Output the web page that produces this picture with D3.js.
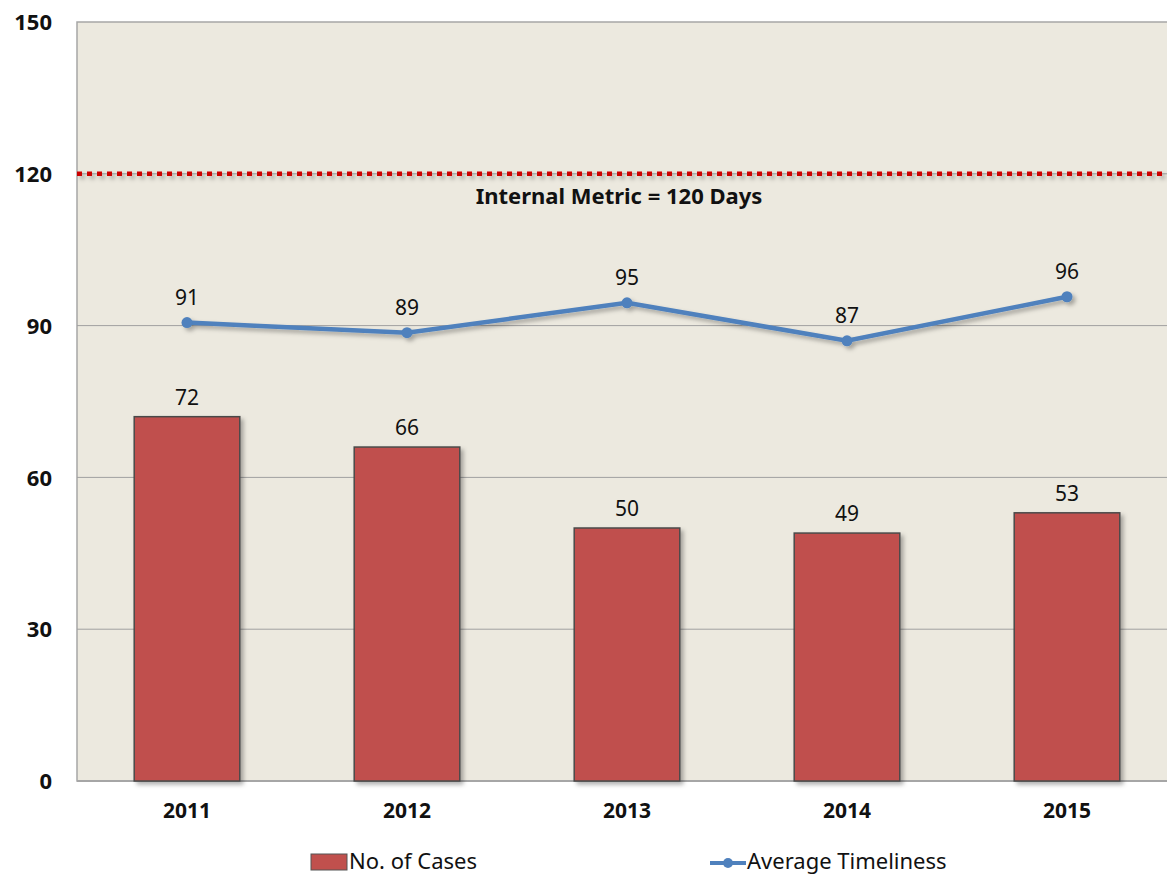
<!DOCTYPE html>
<meta charset="utf-8">
<head>
<style>
body { margin: 0; background: #fff; }
text { font-family: 'Noto Sans', 'Open Sans', sans-serif; fill: #111; }
.tick text { font-size: 21px; font-weight: bold; }
.ytick text { font-size: 22px; }
.lbl { font-size: 21px; }
.legend text { font-size: 22px; }
</style>
<script src="https://cdn.jsdelivr.net/npm/d3@7"></script>
</head>
<body>
<svg id="chart"></svg>
<script>
// data
var years = ["2011", "2012", "2013", "2014", "2015"]
var cases = [72, 66, 50, 49, 53]
var timeliness = [90.6, 88.6, 94.5, 87.0, 95.7]
var yTicks = [0, 30, 60, 90, 120, 150]
var metric = 120

var width = 1167, height = 875
var margin = {top: 22, right: -10, bottom: 94, left: 77}
var w = width - margin.left - margin.right
var h = height - margin.top - margin.bottom

var svg = d3.select('#chart').attr('width', width).attr('height', height)

var defs = svg.append('defs')
var f = defs.append('filter').attr('id', 'shadow').attr('filterUnits', 'userSpaceOnUse')
  .attr('x', 0).attr('y', 0).attr('width', width).attr('height', height)
f.append('feDropShadow').attr('dx', 3).attr('dy', 3).attr('stdDeviation', 2).attr('flood-color', '#000').attr('flood-opacity', 0.3)

var g = svg.append('g').attr('transform', 'translate(' + margin.left + ',' + margin.top + ')')

var x = d3.scaleBand().domain(years).range([0, w]).paddingInner(0.52).paddingOuter(0.26)
var y = d3.scaleLinear().domain([0, 150]).range([h, 0])

// plot background
g.append('rect').attr('width', w).attr('height', h).attr('fill', '#ECE9DF')
  .attr('stroke', '#a6a6a6').attr('stroke-width', 1.5)

// gridlines
g.selectAll('.grid').data(yTicks.filter(d => d > 0 && d < 150)).enter().append('line')
  .attr('x1', 0).attr('x2', w)
  .attr('y1', d => y(d)).attr('y2', d => y(d))
  .attr('stroke', '#a0a0a0').attr('stroke-width', 1)

// y axis
var yAxis = g.append('g').attr('class', 'ytick').call(d3.axisLeft(y).tickValues(yTicks).tickSize(0).tickPadding(25))
yAxis.select('.domain').remove()
yAxis.selectAll('text').attr('dy', '0.35em')

// x axis
var xAxis = g.append('g').attr('transform', 'translate(0,' + h + ')')
  .call(d3.axisBottom(x).tickSize(0).tickPadding(22))
xAxis.select('.domain').remove()
g.append('line').attr('x1', 0).attr('x2', w).attr('y1', h).attr('y2', h).attr('stroke', '#a6a6a6').attr('stroke-width', 2)

// bars
g.selectAll('.bar').data(cases).enter().append('rect')
  .attr('x', (d, i) => x(years[i]))
  .attr('y', d => y(d))
  .attr('width', x.bandwidth())
  .attr('height', d => h - y(d))
  .attr('fill', '#C0504D')
  .attr('stroke', '#4a4a4a').attr('stroke-width', 1.5)
  .attr('filter', 'url(#shadow)')

g.selectAll('.barlbl').data(cases).enter().append('text').attr('class', 'lbl')
  .attr('x', (d, i) => x(years[i]) + x.bandwidth() / 2)
  .attr('y', d => y(d) - 12)
  .attr('text-anchor', 'middle')
  .text(d => d)

// metric line
g.append('line').attr('x1', 0).attr('x2', w)
  .attr('y1', y(metric)).attr('y2', y(metric))
  .attr('stroke', '#CC0000').attr('stroke-width', 4.5)
  .attr('stroke-dasharray', '5,5')
  .attr('filter', 'url(#shadow)')
g.append('text').attr('x', 542).attr('y', y(metric) + 30)
  .attr('text-anchor', 'middle').style('font-size', '22px').style('font-weight', 'bold')
  .text('Internal Metric = 120 Days')

// timeliness line
var cx = (d, i) => x(years[i]) + x.bandwidth() / 2
var line = d3.line().x(cx).y(d => y(d))
var lg = g.append('g').attr('filter', 'url(#shadow)')
lg.append('path').datum(timeliness).attr('d', line)
  .attr('fill', 'none').attr('stroke', '#4F81BD').attr('stroke-width', 4.5)
lg.selectAll('circle').data(timeliness).enter().append('circle')
  .attr('cx', cx).attr('cy', d => y(d)).attr('r', 5.5).attr('fill', '#4F81BD')

g.selectAll('.linelbl').data(timeliness).enter().append('text').attr('class', 'lbl')
  .attr('x', cx).attr('y', d => y(d) - 18)
  .attr('text-anchor', 'middle')
  .text(d => Math.round(d))

// legend
var leg = svg.append('g').attr('class', 'legend')
leg.append('rect').attr('x', 311).attr('y', 854).attr('width', 36).attr('height', 16)
  .attr('fill', '#C0504D').attr('stroke', '#555').attr('stroke-width', 1)
leg.append('text').attr('x', 349).attr('y', 869).text('No. of Cases')
leg.append('line').attr('x1', 710).attr('x2', 746).attr('y1', 863).attr('y2', 863)
  .attr('stroke', '#4F81BD').attr('stroke-width', 4)
leg.append('circle').attr('cx', 728).attr('cy', 863).attr('r', 5).attr('fill', '#4F81BD')
leg.append('text').attr('x', 747).attr('y', 869).text('Average Timeliness')
</script>
</body>
</html>
